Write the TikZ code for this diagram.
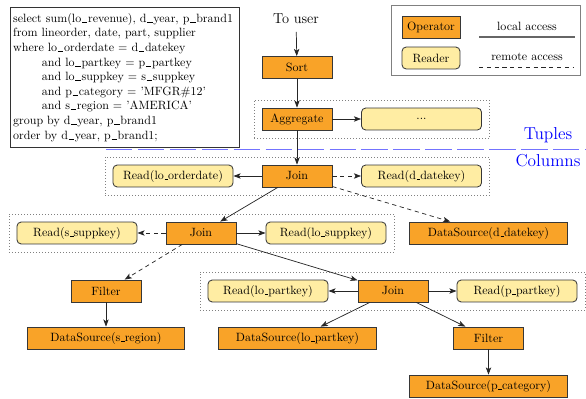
\documentclass[tikz,border=0pt]{standalone}
\usetikzlibrary{arrows.meta,fit}
\definecolor{opfill}{RGB}{249,163,40}
\definecolor{rdfill}{RGB}{255,237,163}
\definecolor{bdr}{RGB}{55,55,55}
\newcommand\us{\leavevmode\kern.06em\vbox{\hrule width.3em}}
\newcommand\usq{\leavevmode\kern.06em\vbox{\hrule width.45em}\kern.06em}
\begin{document}
\begin{tikzpicture}[x=0.833pt,y=-0.833pt,
  op/.style={draw=bdr, fill=opfill, line width=0.7pt, minimum width=58.3pt, minimum height=18.3pt, inner sep=0pt},
  rd/.style={draw=bdr, fill=rdfill, rounded corners=3.5pt, line width=0.7pt, minimum width=100pt, minimum height=18.3pt, inner sep=0pt},
  ds/.style={op, minimum width=131pt},
  grp/.style={draw=gray, dotted, line width=0.5pt, inner sep=6.3pt},
  arr/.style={-{Stealth[length=6pt,width=4.5pt,inset=1.5pt]}, line width=0.6pt, black!85},
  rarr/.style={arr, dash pattern=on 3.5pt off 3pt}]
\useasboundingbox (0,0) rectangle (586,399);

% SQL query
\node[draw=black!80, line width=0.7pt, anchor=north west, text width=186pt, inner xsep=2.3pt, inner ysep=2pt,
      align=left, font=\fontsize{10}{12.2}\selectfont, minimum height=116.6pt] (sql) at (10,7)
{select sum(lo\usq revenue), d\usq year, p\usq brand1\\
from lineorder, date, part, supplier\\
where lo\usq orderdate = d\usq datekey\\
\hspace*{24pt}and lo\usq partkey = p\usq partkey\\
\hspace*{24pt}and lo\usq suppkey = s\usq suppkey\\
\hspace*{24pt}and p\usq category = 'MFGR\#12'\\
\hspace*{24pt}and s\usq region = 'AMERICA'\\
group by d\usq year, p\usq brand1\\
order by d\usq year, p\usq brand1;};

% legend
\node[draw=gray, line width=0.7pt, anchor=north west, minimum width=157.4pt, minimum height=58.3pt] (leg) at (391,5) {};
\node[op, minimum width=48.3pt] (lop) at (431,27) {Operator};
\node[rd, minimum width=48.3pt] (lrd) at (431,58) {Reader};
\node (ltxt) at (527,26) {local access};
\node (rtxt) at (527,57) {remote access};
\coordinate (la1) at (479,37); \coordinate (la2) at (575,37);
\coordinate (ra1) at (479,67); \coordinate (ra2) at (573,67);
\draw[gray!80!black, line width=0.9pt] (la1) -- (la2);
\draw[black!85, line width=0.6pt, dash pattern=on 3.5pt off 3pt] (ra1) -- (ra2);

% operators and readers
\node[font=\large] (touser) at (296,19) {To user};
\node[op] (sort) at (297,67.5) {Sort};
\node[op] (agg) at (297,119) {Aggregate};
\node[rd] (dots) at (421.5,119) {...};
\node[op] (join1) at (297,176) {Join};
\node[rd] (rlo) at (173,176) {Read(lo\us orderdate)};
\node[rd] (rdd) at (421.5,176) {Read(d\us datekey)};
\node[ds] (dsd) at (488.5,233) {DataSource(d\us datekey)};
\node[op] (join2) at (201,233) {Join};
\node[rd] (rss) at (77,233) {Read(s\us suppkey)};
\node[rd] (rls) at (326,233) {Read(lo\us suppkey)};
\node[op] (filt1) at (106,291) {Filter};
\node[ds] (dsr) at (106,338) {DataSource(s\us region)};
\node[op] (join3) at (393,291) {Join};
\node[rd] (rlp) at (268,291) {Read(lo\us partkey)};
\node[rd] (rpp) at (517,291) {Read(p\us partkey)};
\node[ds] (dslp) at (297.5,338) {DataSource(lo\us partkey)};
\node[op] (filt2) at (488.5,338) {Filter};
\node[ds] (dspc) at (488.5,386) {DataSource(p\us category)};

% groups
\node[grp, fit=(agg)(dots)] (g1) {};
\node[grp, fit=(rlo)(rdd)] (g2) {};
\node[grp, fit=(rss)(rls)] (g3) {};
\node[grp, fit=(rlp)(rpp)] (g4) {};

% tuples / columns divider
\coordinate (divL) at (106,149); \coordinate (divR) at (586,149);
\draw[blue!55, line width=0.6pt, dash pattern=on 22pt off 4.6pt] (divL) -- (divR);
\node[blue, font=\Large] (tup) at (548,135) {Tuples};
\node[blue, font=\Large] (col) at (548,161) {Columns};

% connectors
\draw[arr, shorten <=3pt] (touser) -- (sort);
\draw[arr] (sort) -- (agg);
\draw[arr] (agg) -- (dots);
\draw[arr] (agg) -- (join1);
\draw[arr] (join1) -- (rlo);
\draw[rarr] (join1) -- (rdd);
\draw[arr] (join1) -- (join2);
\draw[rarr] (join1) -- (dsd);
\draw[rarr] (join2) -- (rss);
\draw[arr] (join2) -- (rls);
\draw[rarr] (join2) -- (filt1);
\draw[arr] (join2) -- (join3);
\draw[arr] (filt1) -- (dsr);
\draw[arr] (join3) -- (rlp);
\draw[arr] (join3) -- (rpp);
\draw[arr] (join3) -- (dslp);
\draw[arr] (join3) -- (filt2);
\draw[arr] (filt2) -- (dspc);
\end{tikzpicture}
\end{document}
